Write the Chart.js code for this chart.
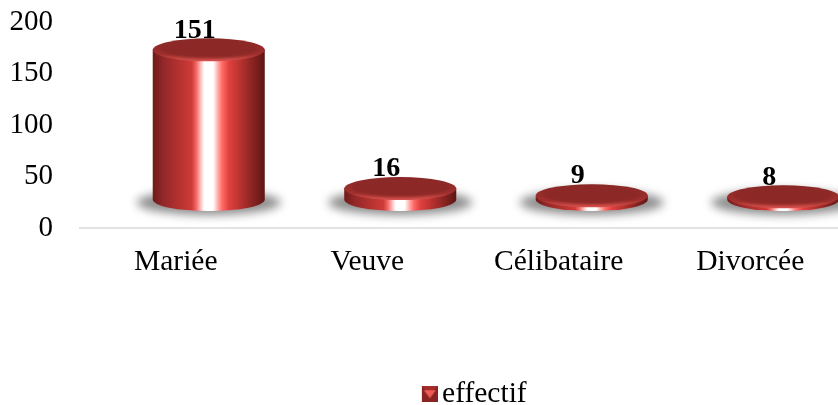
<!DOCTYPE html>
<html>
<head>
<meta charset="utf-8">
<title>effectif</title>
<script src="https://cdn.jsdelivr.net/npm/chart.js@4"></script>
<style>
    html, body { margin: 0; padding: 0; background: #fff; overflow: hidden; }
    #wrap { width: 838px; height: 405px; overflow: hidden; }
    canvas { display: block; }
</style>
</head>
<body>
<div id="wrap"><canvas id="chart" width="846" height="405"></canvas></div>
<script>
const categories = ["Mariée", "Veuve", "Célibataire", "Divorcée"];
const effectif = [151, 16, 9, 8];
const seriesName = "effectif";
const yTicks = [0, 50, 100, 150, 200];

const FONT = '"Liberation Serif", "Times New Roman", serif';

// little bevelled square for the legend, pushed to the right of a wider
// canvas so it sits closer to the legend text
function legendIcon() {
    const c = document.createElement("canvas");
    c.width = 37;
    c.height = 16;
    const g = c.getContext("2d");
    g.translate(21, 0);
    g.fillStyle = "#8a2422";
    g.fillRect(0, 0, 16, 16);
    g.fillStyle = "#a52c29";
    g.beginPath();
    g.moveTo(0, 0); g.lineTo(16, 0); g.lineTo(12, 4); g.lineTo(4, 4);
    g.closePath();
    g.fill();
    g.fillStyle = "#ee5a55";
    g.beginPath();
    g.moveTo(2, 4); g.lineTo(14, 4); g.lineTo(8, 12);
    g.closePath();
    g.fill();
    return c;
}

function sideGradient(ctx, left, w) {
    const grad = ctx.createLinearGradient(left, 0, left + w, 0);
    grad.addColorStop(0, "#701b19");
    grad.addColorStop(0.1, "#94282a");
    grad.addColorStop(0.25, "#b83330");
    grad.addColorStop(0.35, "#cf3b38");
    grad.addColorStop(0.39, "#f56a66");
    grad.addColorStop(0.43, "#ffc4c2");
    grad.addColorStop(0.46, "#ffffff");
    grad.addColorStop(0.54, "#ffffff");
    grad.addColorStop(0.58, "#ffb0ad");
    grad.addColorStop(0.62, "#ff6a66");
    grad.addColorStop(0.68, "#e0403d");
    grad.addColorStop(0.78, "#b83230");
    grad.addColorStop(0.9, "#852321");
    grad.addColorStop(1, "#5e1513");
    return grad;
}

// moves the legend off its centred slot
const legendShift = {
    id: "legendShift",
    afterLayout(chart) {
        const legend = chart.legend;
        legend.left += 46;
        legend.right += 46;
        legend.top += 17;
        legend.bottom += 17;
    }
};

// draws each bar of the dataset as a 3D cylinder, pushed back along the depth axis
const cylinders = {
    id: "cylinders",
    afterDatasetsDraw(chart) {
        const ctx = chart.ctx;
        const meta = chart.getDatasetMeta(0);
        const depthX = 33;
        const depthY = 27.5;
        const ry = 11.5;

        meta.data.forEach((bar, i) => {
            const w = bar.width;
            const cx = bar.x + depthX;
            const rx = w / 2;
            const left = cx - rx;
            const baseY = bar.base - depthY;
            // perspective foreshortens the height a little
            const topY = baseY - ((bar.base - bar.y) * 0.995 - 5);

            ctx.save();

            // floor shadow
            ctx.filter = "blur(5px)";
            ctx.fillStyle = "#8c8c8c";
            ctx.beginPath();
            ctx.ellipse(cx, baseY + 3, rx + 16, ry + 1, 0, 0, Math.PI * 2);
            ctx.fill();
            ctx.filter = "none";

            // body
            ctx.fillStyle = sideGradient(ctx, left, w);
            ctx.beginPath();
            ctx.moveTo(left, topY);
            ctx.lineTo(left, baseY);
            ctx.ellipse(cx, baseY, rx, ry, 0, Math.PI, 0, true);
            ctx.lineTo(left + w, topY);
            ctx.closePath();
            ctx.fill();

            // top face with its lighter bevel
            const rim = ctx.createLinearGradient(0, topY - ry, 0, topY + ry);
            rim.addColorStop(0, "#872725");
            rim.addColorStop(0.7, "#a0302d");
            rim.addColorStop(1, "#d8524e");
            ctx.fillStyle = rim;
            ctx.beginPath();
            ctx.ellipse(cx, topY, rx, ry, 0, 0, Math.PI * 2);
            ctx.fill();

            ctx.filter = "blur(1px)";
            ctx.fillStyle = "#8c2927";
            ctx.beginPath();
            ctx.ellipse(cx, topY - 1, rx - 7, ry - 2.5, 0, 0, Math.PI * 2);
            ctx.fill();
            ctx.filter = "none";

            // value above the cylinder
            ctx.fillStyle = "#000";
            ctx.font = 'bold 28px ' + FONT;
            ctx.textAlign = "center";
            ctx.textBaseline = "middle";
            ctx.fillText(String(effectif[i]), bar.x + 19, topY - ry - 8);

            ctx.restore();
        });
    }
};

new Chart(document.getElementById("chart"), {
    type: "bar",
    data: {
        labels: categories,
        datasets: [{
            label: seriesName,
            data: effectif,
            backgroundColor: "rgba(0,0,0,0)",
            borderWidth: 0,
            categoryPercentage: 1,
            barPercentage: 0.585,
            pointStyle: legendIcon()
        }]
    },
    options: {
        responsive: false,
        animation: false,
        layout: { padding: { top: 21, right: 0, bottom: 3, left: 0 } },
        plugins: {
            tooltip: { enabled: false },
            legend: {
                position: "bottom",
                labels: {
                    usePointStyle: true,
                    boxWidth: 16,
                    color: "#000",
                    font: { family: FONT, size: 29.5 },
                    padding: 0
                }
            }
        },
        scales: {
            x: {
                grid: { display: false, drawTicks: false },
                border: { color: "#e2e2e2", width: 2 },
                ticks: { color: "#000", font: { family: FONT, size: 29.5 }, padding: 17, maxRotation: 0 },
                afterFit(scale) { scale.height = 135; }
            },
            y: {
                min: 0,
                max: 200,
                afterBuildTicks(scale) { scale.ticks = yTicks.map(v => ({ value: v })); },
                // invisible tick marks keep the labels away from the axis
                grid: { drawOnChartArea: false, drawTicks: true, tickLength: 27, tickColor: "rgba(0,0,0,0)" },
                border: { display: false },
                ticks: { color: "#000", font: { family: FONT, size: 29 }, padding: 0, labelOffset: 1 },
                afterFit(scale) { scale.width = 80; }
            }
        }
    },
    plugins: [legendShift, cylinders]
});
</script>
</body>
</html>
